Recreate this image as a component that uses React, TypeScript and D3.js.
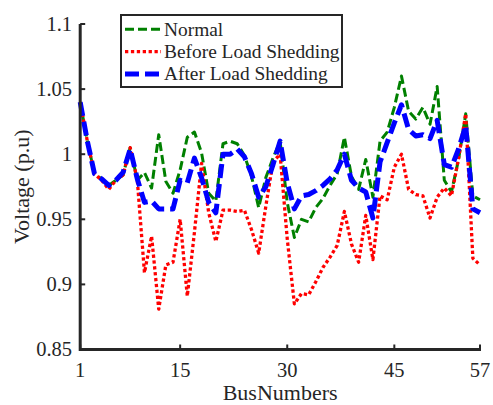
import React from "react";
import * as d3 from "d3";

const buses: number[] = d3.range(1, 58);

const normal: number[] = [1.04, 1.01, 0.985, 0.981, 0.976, 0.98, 0.984, 1.005, 0.98, 0.986, 0.974, 1.015, 0.979, 0.97, 0.988, 1.013, 1.017, 1.001, 0.97, 0.964, 1.008, 1.01, 1.008, 0.999, 0.983, 0.959, 0.982, 0.997, 1.01, 0.963, 0.936, 0.95, 0.948, 0.959, 0.966, 0.976, 0.985, 1.013, 0.983, 0.973, 0.996, 0.967, 1.01, 1.017, 1.036, 1.06, 1.033, 1.027, 1.036, 1.023, 1.052, 0.98, 0.971, 0.996, 1.031, 0.968, 0.965];

const beforeShed: number[] = [1.04, 1.01, 0.985, 0.98, 0.973, 0.98, 0.984, 1.005, 0.98, 0.909, 0.937, 0.881, 0.915, 0.917, 0.95, 0.891, 0.94, 0.993, 0.955, 0.933, 0.957, 0.957, 0.956, 0.957, 0.942, 0.924, 0.96, 0.994, 1.0, 0.935, 0.885, 0.893, 0.892, 0.902, 0.913, 0.921, 0.93, 0.956, 0.931, 0.917, 0.953, 0.919, 0.968, 0.965, 0.99, 1.0, 0.973, 0.969, 0.968, 0.951, 0.967, 0.974, 0.968, 0.997, 1.031, 0.92, 0.915];

const afterShed: number[] = [1.04, 1.01, 0.985, 0.981, 0.976, 0.98, 0.986, 1.004, 0.981, 0.963, 0.964, 0.958, 0.958, 0.958, 0.98, 0.978, 0.997, 0.982, 0.963, 0.955, 1.0, 1.0, 1.004, 0.998, 0.985, 0.967, 0.975, 0.992, 1.01, 0.978, 0.958, 0.968, 0.969, 0.972, 0.976, 0.981, 0.988, 1.0, 0.98, 0.974, 0.971, 0.951, 0.994, 1.009, 1.024, 1.038, 1.019, 1.014, 1.015, 1.012, 1.026, 0.992, 0.99, 1.004, 1.022, 0.958, 0.955];

const xTicks: number[] = [1, 15, 30, 45, 57];
const yTicks: number[] = [0.85, 0.9, 0.95, 1, 1.05, 1.1];
const seriesNames: string[] = ["Normal", "Before Load Shedding", "After Load Shedding"];

const W = 493;
const H = 405;
const FONT = "'Liberation Serif', 'Times New Roman', serif";
const AX = "#262626";

export default function App() {
  const x = d3.scaleLinear().domain([1, 57]).range([80.2, 480]);
  const y = d3.scaleLinear().domain([0.85, 1.1]).range([349.5, 24]);
  const line = d3
    .line<number>()
    .x((_, i) => x(buses[i]))
    .y((d) => y(d));

  const styles = [
    { data: normal, color: "#008000", w: 3, dash: "9,4" },
    { data: beforeShed, color: "#ff0000", w: 3.3, dash: "3.3,2.6" },
    { data: afterShed, color: "#0000ff", w: 5, dash: "14,6" },
  ];

  const legendX = 121;
  const legendY = 15;
  const rows = [29.3, 51.7, 74];

  return (
    <svg
      width={W}
      height={H}
      style={{ position: "absolute", left: 0, top: 0, background: "#fff" }}
      fontFamily={FONT}
    >
      <rect x={0} y={0} width={W} height={H} fill="#fff" />
      {styles.map((s, k) => (
        <path
          key={k}
          d={line(s.data) || ""}
          fill="none"
          stroke={s.color}
          strokeWidth={s.w}
          strokeDasharray={s.dash}
          strokeLinejoin="round"
        />
      ))}
      <line x1={x(1)} x2={x(57) + 1} y1={y(0.85)} y2={y(0.85)} stroke={AX} strokeWidth={3} />
      <line x1={x(1)} x2={x(1)} y1={y(0.85) + 1.5} y2={y(1.1)} stroke={AX} strokeWidth={3} />
      {xTicks.map((t) => (
        <g key={"x" + t}>
          <line x1={x(t)} x2={x(t)} y1={y(0.85)} y2={y(0.85) - 5} stroke={AX} strokeWidth={2} />
          <text x={x(t)} y={377} textAnchor="middle" fontSize={20.5} fill={AX}>
            {t}
          </text>
        </g>
      ))}
      {yTicks.map((t) => (
        <g key={"y" + t}>
          <line x1={x(1)} x2={x(1) + 5} y1={y(t)} y2={y(t)} stroke={AX} strokeWidth={2} />
          <text x={72} y={y(t) + 6.5} textAnchor="end" fontSize={20.5} fill={AX}>
            {d3.format("~g")(t)}
          </text>
        </g>
      ))}
      <text x={(x(1) + x(57)) / 2} y={400} textAnchor="middle" fontSize={22} fill={AX}>
        BusNumbers
      </text>
      <text
        transform={`translate(29,${(y(0.85) + y(1.1)) / 2}) rotate(-90)`}
        textAnchor="middle"
        fontSize={22}
        fill={AX}
      >
        Voltage (p.u)
      </text>
      <rect x={legendX} y={legendY} width={221} height={72} fill="#fff" stroke={AX} strokeWidth={2} />
      {styles.map((s, k) => (
        <g key={"l" + k}>
          <line
            x1={125}
            x2={161}
            y1={rows[k]}
            y2={rows[k]}
            stroke={s.color}
            strokeWidth={s.w}
            strokeDasharray={s.dash}
          />
          <text x={164} y={rows[k] + 6.3} fontSize={19.4} fill={AX}>
            {seriesNames[k]}
          </text>
        </g>
      ))}
    </svg>
  );
}
